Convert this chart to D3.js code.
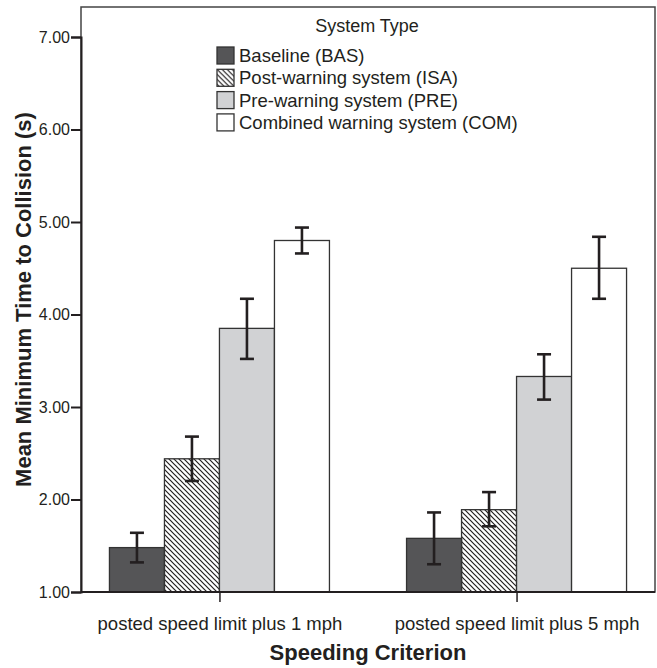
<html>
<head>
<meta charset="utf-8">
<style>
  body { margin: 0; background: #fff; }
  text { font-family: Arial, "Liberation Sans", sans-serif; fill: #231f20; }
</style>
</head>
<body>
<script src="https://d3js.org/d3.v7.min.js"></script>
<script>

// speeding criteria (x categories)
var categories = ["posted speed limit plus 1 mph", "posted speed limit plus 5 mph"];
// system types (legend / series)
var systems = ["Baseline (BAS)", "Post-warning system (ISA)", "Pre-warning system (PRE)", "Combined warning system (COM)"];
// mean minimum TTC, one value per category
var meanBAS = [1.48, 1.58];
var meanISA = [2.44, 1.89];
var meanPRE = [3.85, 3.33];
var meanCOM = [4.80, 4.50];
// error bar ends
var lowBAS = [1.32, 1.30], highBAS = [1.64, 1.86];
var lowISA = [2.20, 1.71], highISA = [2.68, 2.08];
var lowPRE = [3.52, 3.08], highPRE = [4.17, 3.57];
var lowCOM = [4.66, 4.17], highCOM = [4.94, 4.84];
var yTicks = [1, 2, 3, 4, 5, 6, 7];

var means = [meanBAS, meanISA, meanPRE, meanCOM],
    lows = [lowBAS, lowISA, lowPRE, lowCOM],
    highs = [highBAS, highISA, highPRE, highCOM];

var data = [];
categories.forEach(function(c, ci) {
  systems.forEach(function(s, si) {
    data.push({cat: c, sys: s, si: si, mean: means[si][ci], lo: lows[si][ci], hi: highs[si][ci]});
  });
});

var width = 657, height = 668;
var plotLeft = 81, plotRight = 655, plotTop = 7, plotBottom = 592;

var svg = d3.select("body").append("svg")
    .attr("width", width)
    .attr("height", height);

// diagonal hatch for ISA, lines run top-left to bottom-right
var defs = svg.append("defs");
defs.append("pattern")
    .attr("id", "hatch")
    .attr("patternUnits", "userSpaceOnUse")
    .attr("width", 5)
    .attr("height", 5)
  .append("path")
    .attr("d", "M-1,-1 L6,6 M-1,4 L1,6 M4,-1 L6,1")
    .attr("stroke", "#231f20")
    .attr("stroke-width", 1.2);

var fills = ["#555557", "url(#hatch)", "#d1d2d4", "#ffffff"];

var x0 = d3.scalePoint()
    .domain(categories)
    .range([plotLeft, plotRight])
    .padding(0.466);

var x1 = d3.scaleBand()
    .domain(systems)
    .range([-110, 110]);

var y = d3.scaleLinear()
    .domain([1, 7])
    .range([plotBottom, 37]);

// frame
svg.append("rect")
    .attr("x", plotLeft)
    .attr("y", plotTop)
    .attr("width", plotRight - plotLeft)
    .attr("height", plotBottom - plotTop)
    .attr("fill", "none")
    .attr("stroke", "#444")
    .attr("stroke-width", 1.5);

// bars
var g = svg.append("g");
g.selectAll("rect.bar")
  .data(data)
  .enter().append("rect")
    .attr("class", "bar")
    .attr("x", function(d) { return x0(d.cat) + x1(d.sys); })
    .attr("y", function(d) { return y(d.mean); })
    .attr("width", x1.bandwidth())
    .attr("height", function(d) { return y(1) - y(d.mean); })
    .attr("fill", function(d) { return fills[d.si]; })
    .attr("stroke", "#333")
    .attr("stroke-width", 1.3);

// error bars
var eb = g.selectAll("g.err")
  .data(data)
  .enter().append("g")
    .attr("class", "err")
    .attr("stroke", "#231f20")
    .attr("stroke-width", 2.6);
eb.append("line")
    .attr("x1", function(d) { return x0(d.cat) + x1(d.sys) + x1.bandwidth() / 2; })
    .attr("x2", function(d) { return x0(d.cat) + x1(d.sys) + x1.bandwidth() / 2; })
    .attr("y1", function(d) { return y(d.lo); })
    .attr("y2", function(d) { return y(d.hi); });
["lo", "hi"].forEach(function(k) {
  eb.append("line")
      .attr("x1", function(d) { return x0(d.cat) + x1(d.sys) + x1.bandwidth() / 2 - 7; })
      .attr("x2", function(d) { return x0(d.cat) + x1(d.sys) + x1.bandwidth() / 2 + 7; })
      .attr("y1", function(d) { return y(d[k]); })
      .attr("y2", function(d) { return y(d[k]); });
});

// y axis
var yAxis = svg.append("g")
    .attr("transform", "translate(" + plotLeft + ",0)")
    .call(d3.axisLeft(y).tickValues(yTicks).tickFormat(d3.format(".2f")).tickSize(10).tickPadding(1));
yAxis.select(".domain").attr("stroke", "#231f20").attr("stroke-width", 2);
yAxis.selectAll(".tick line").attr("stroke", "#231f20").attr("stroke-width", 2);
yAxis.selectAll(".tick text")
    .attr("font-size", 16)
    .attr("font-family", "Arial, 'Liberation Sans', sans-serif")
    .attr("fill", "#231f20");

// x axis
var xAxis = svg.append("g")
    .attr("transform", "translate(0," + plotBottom + ")")
    .call(d3.axisBottom(x0).tickSize(10).tickPadding(15));
xAxis.select(".domain").attr("stroke", "#231f20").attr("stroke-width", 2).attr("d", "M" + plotLeft + ",0H" + plotRight);
xAxis.selectAll(".tick line").attr("stroke", "#231f20").attr("stroke-width", 1.5);
xAxis.selectAll(".tick text")
    .attr("font-size", 18.5)
    .attr("font-family", "Arial, 'Liberation Sans', sans-serif")
    .attr("fill", "#231f20");

// axis titles
svg.append("text")
    .attr("x", (plotLeft + plotRight) / 2)
    .attr("y", 660)
    .attr("text-anchor", "middle")
    .attr("font-size", 22)
    .attr("font-weight", "bold")
    .text("Speeding Criterion");

svg.append("text")
    .attr("transform", "translate(31," + ((plotTop + plotBottom) / 2) + ") rotate(-90)")
    .attr("text-anchor", "middle")
    .attr("font-size", 22)
    .attr("font-weight", "bold")
    .text("Mean Minimum Time to Collision (s)");

// legend
var legend = svg.append("g")
    .attr("transform", "translate(217,47)");
legend.append("text")
    .attr("x", 150)
    .attr("y", -15)
    .attr("text-anchor", "middle")
    .attr("font-size", 18)
    .text("System Type");
var item = legend.selectAll("g.item")
  .data(systems)
  .enter().append("g")
    .attr("class", "item")
    .attr("transform", function(d, i) { return "translate(0," + i * 22.3 + ")"; });
item.append("rect")
    .attr("width", 17)
    .attr("height", 17)
    .attr("fill", function(d, i) { return fills[i]; })
    .attr("stroke", "#333")
    .attr("stroke-width", 1.3);
item.append("text")
    .attr("x", 22)
    .attr("y", 15)
    .attr("font-size", 18.5)
    .text(function(d) { return d; });

</script>
</body>
</html>
